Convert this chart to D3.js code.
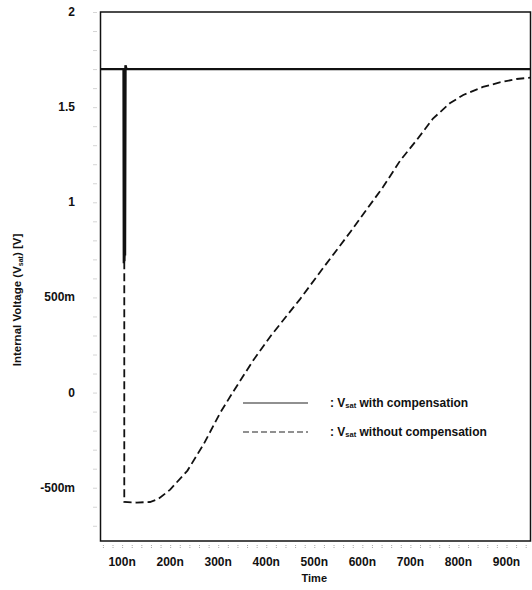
<!DOCTYPE html>
<html>
<head>
<meta charset="utf-8">
<script src="https://cdn.jsdelivr.net/npm/d3@7"></script>
<style>
  body { margin: 0; background: #fff; }
  text { font-family: "Liberation Sans", Arial, sans-serif; font-weight: bold; fill: #111; }
</style>
</head>
<body>
<div id="chart"></div>
<script>
// time in ns, voltage in V
const withTime = [55, 103, 103.6, 104.2, 104.8, 105.4, 106, 107, 109, 950];
const withVolt = [1.7, 1.7, 0.68, 1.7, 0.69, 1.7, 0.72, 1.72, 1.7, 1.7];

const withoutTime = [55, 104.5, 104.5, 130, 158, 175, 200, 236, 270, 304, 330, 373, 410, 470, 520, 575, 643, 679, 714, 747, 782, 810, 851, 886, 921, 950];
const withoutVolt = [1.7, 1.7, -0.575, -0.578, -0.575, -0.56, -0.51, -0.41, -0.27, -0.107, 0.0, 0.17, 0.3, 0.49, 0.66, 0.844, 1.08, 1.22, 1.33, 1.44, 1.52, 1.564, 1.606, 1.63, 1.648, 1.655];

const xTicks = [100, 200, 300, 400, 500, 600, 700, 800, 900];
const xTickLabels = ["100n", "200n", "300n", "400n", "500n", "600n", "700n", "800n", "900n"];
const yTicks = [-0.5, 0, 0.5, 1, 1.5, 2];
const yTickLabels = ["-500m", "0", "500m", "1", "1.5", "2"];

const width = 532, height = 590;
const plotLeft = 100.5, plotRight = 530.5, plotTop = 12, plotBottom = 541;

const svg = d3.select('#chart').append('svg')
    .attr('width', width)
    .attr('height', height);

const x = d3.scaleLinear().domain([55, 950]).range([plotLeft, plotRight]);
const y = d3.scaleLinear().domain([-0.78, 2]).range([plotBottom, plotTop]);

// faint ruler ticks outside the frame
svg.append('g')
    .attr('transform', `translate(${plotLeft - 4},0)`)
    .call(d3.axisLeft(y).ticks(28).tickSize(3).tickFormat(''))
    .call(g => g.select('.domain').remove())
    .selectAll('line').attr('stroke', '#aaa').attr('stroke-dasharray', '1,1');

svg.append('g')
    .attr('transform', `translate(0,${plotBottom + 4})`)
    .call(d3.axisBottom(x).ticks(45).tickSize(3).tickFormat(''))
    .call(g => g.select('.domain').remove())
    .selectAll('line').attr('stroke', '#aaa').attr('stroke-dasharray', '1,1');

// frame
svg.append('rect')
    .attr('x', plotLeft).attr('y', plotTop)
    .attr('width', plotRight - plotLeft).attr('height', plotBottom - plotTop)
    .attr('fill', 'none').attr('stroke', '#111').attr('stroke-width', 1.5);

// tick labels
svg.append('g').selectAll('text')
    .data(yTicks)
    .enter().append('text')
    .attr('x', 75)
    .attr('y', d => y(d) + 4)
    .attr('text-anchor', 'end')
    .attr('font-size', 12)
    .text((d, i) => yTickLabels[i]);

svg.append('g').selectAll('text')
    .data(xTicks)
    .enter().append('text')
    .attr('x', d => x(d))
    .attr('y', 566)
    .attr('text-anchor', 'middle')
    .attr('font-size', 12)
    .text((d, i) => xTickLabels[i]);

svg.append('text')
    .attr('x', x(500)).attr('y', 582)
    .attr('text-anchor', 'middle')
    .attr('font-size', 11)
    .text('Time');

const yl = svg.append('text')
    .attr('transform', 'translate(21,300) rotate(-90)')
    .attr('text-anchor', 'middle')
    .attr('font-size', 11.5);
yl.append('tspan').text('Internal Voltage (V');
yl.append('tspan').attr('font-size', 7).attr('dy', 2).text('sat');
yl.append('tspan').attr('dy', -2).text(') [V]');

// series
const line = d3.line().x(d => x(d[0])).y(d => y(d[1]));

svg.append('path')
    .datum(withoutTime.map((t, i) => [t, withoutVolt[i]]))
    .attr('d', line)
    .attr('fill', 'none')
    .attr('stroke', '#111')
    .attr('stroke-width', 1.8)
    .attr('stroke-dasharray', '8,4');

svg.append('path')
    .datum(withTime.map((t, i) => [t, withVolt[i]]))
    .attr('d', line)
    .attr('fill', 'none')
    .attr('stroke', '#111')
    .attr('stroke-width', 2.4);

// legend
const legend = [
    { dash: null, text: ' with compensation', y: 403 },
    { dash: '6,3', text: ' without compensation', y: 432 }
];
legend.forEach(l => {
    svg.append('line')
        .attr('x1', 243).attr('x2', 308)
        .attr('y1', l.y).attr('y2', l.y)
        .attr('stroke', '#222')
        .attr('stroke-width', 1.2)
        .attr('stroke-dasharray', l.dash);
    const t = svg.append('text')
        .attr('x', 330).attr('y', l.y + 4)
        .attr('font-size', 12);
    t.append('tspan').text(': V');
    t.append('tspan').attr('font-size', 7.5).attr('dy', 1).text('sat');
    t.append('tspan').attr('dy', -1).text(l.text);
});
</script>
</body>
</html>
